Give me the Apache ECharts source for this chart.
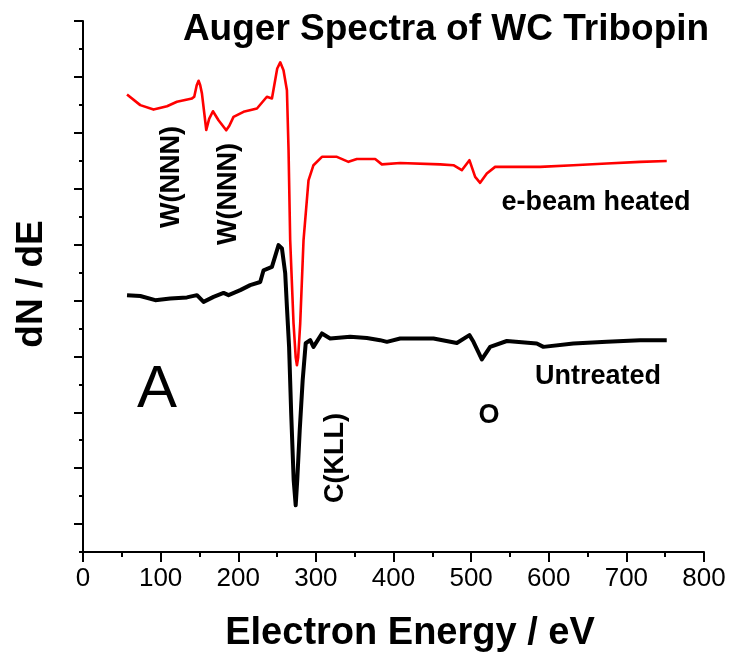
<!DOCTYPE html>
<html>
<head>
<meta charset="utf-8">
<script src="https://cdn.jsdelivr.net/npm/echarts@6/dist/echarts.min.js"></script>
<style>html,body{margin:0;padding:0;background:#fff;}#c{width:743px;height:656px;}</style>
</head>
<body>
<div id="c"></div>
<script>
// Electron energy (eV) and dN/dE (arbitrary units, y-axis tick units)
const heatedE = [56.7,73.8,90.9,108.2,121.0,140.4,143.3,146.5,148.9,151.0,153.2,158.8,162.5,167.4,174.6,184.5,188.5,193.9,206.8,224.1,236.9,243.4,250.2,254.1,258.3,262.7,264.8,266.9,271.2,274.0,275.6,277.2,279.8,284.1,290.5,296.9,307.8,327.1,342.0,352.8,376.4,385.0,408.6,460.1,477.2,488.0,497.8,505.2,511.6,520.2,530.9,567.4,588.9,631.7,674.8,717.6,752.0];
const heatedV = [16.37,15.99,15.83,15.95,16.11,16.23,16.29,16.7,16.86,16.7,16.41,15.10,15.5,15.77,15.45,15.09,15.25,15.57,15.75,15.87,16.29,16.23,17.3,17.52,17.24,16.52,14.38,11.16,8.19,6.97,6.68,6.97,8.17,11.16,13.30,13.84,14.14,14.14,13.96,14.06,14.06,13.87,13.92,13.87,13.84,13.66,14.02,13.42,13.21,13.54,13.78,13.78,13.78,13.84,13.90,13.96,13.99];

const untreatedE = [56.7,73.8,93.1,112.4,133.9,146.8,155.3,168.2,181.1,187.5,202.6,215.4,228.3,232.6,243.4,251.9,256.3,260.5,262.7,265.5,268.2,271.4,274.0,276.0,279.2,283.0,286.9,292.7,296.9,307.8,318.4,344.2,365.7,382.8,391.5,408.6,451.5,481.6,497.8,503.0,513.8,524.5,546.0,584.6,593.1,631.7,674.8,717.6,752.0];
const untreatedV = [9.19,9.16,9.01,9.07,9.11,9.19,8.95,9.13,9.27,9.19,9.37,9.55,9.66,10.08,10.20,10.98,10.86,9.97,8.77,7.33,4.96,2.57,1.67,2.57,4.36,6.15,7.47,7.58,7.34,7.82,7.64,7.70,7.66,7.58,7.52,7.64,7.64,7.48,7.76,7.52,6.89,7.34,7.55,7.46,7.34,7.46,7.52,7.58,7.58];

const xTicks = [0,100,200,300,400,500,600,700,800];
const yMajor = [1,3,5,7,9,11,13,15,17,19];
const yMinor = [0,2,4,6,8,10,12,14,16,18];

const chart = echarts.init(document.getElementById('c'), null, {renderer:'canvas'});
const zip = (a,b)=>a.map((x,i)=>[x,b[i]]);
const bold = 'Liberation Sans, Arial, sans-serif';

chart.setOption({
  animation:false,
  backgroundColor:'#fff',
  grid:{left:83,right:39,top:21,bottom:104,containLabel:false},
  xAxis:{
    type:'value',min:xTicks[0],max:xTicks[xTicks.length-1],interval:100,
    axisLine:{onZero:false,lineStyle:{color:'#000',width:2}},
    axisTick:{show:true,inside:false,length:10,lineStyle:{color:'#000',width:2}},
    minorTick:{show:true,splitNumber:2,length:5,lineStyle:{color:'#000',width:2}},
    splitLine:{show:false},
    axisLabel:{color:'#000',fontSize:26,fontFamily:bold,margin:14}
  },
  yAxis:[{
    type:'value',min:0,max:19,interval:1,
    axisLine:{show:true,lineStyle:{color:'#000',width:2}},
    axisTick:{show:true,length:4,customValues:yMinor,lineStyle:{color:'#000',width:2}},
    splitLine:{show:false},
    axisLabel:{show:false}
  },{
    type:'value',min:0,max:19,interval:1,position:'left',
    axisLine:{show:false},
    axisTick:{show:true,length:9,customValues:yMajor,lineStyle:{color:'#000',width:2}},
    splitLine:{show:false},
    axisLabel:{show:false}
  }],
  series:[
    {type:'line',name:'Untreated',data:zip(untreatedE,untreatedV),symbol:'none',
     lineStyle:{color:'#000',width:4,join:'round'},itemStyle:{color:'#000'}},
    {type:'line',name:'e-beam heated',data:zip(heatedE,heatedV),symbol:'none',
     lineStyle:{color:'#ff0000',width:2.6,join:'round'},itemStyle:{color:'#ff0000'}}
  ],
  graphic:[
    {type:'text',x:446,y:30,style:{text:'Auger Spectra of WC Tribopin',font:'bold 37px '+bold,fill:'#000',textAlign:'center',textVerticalAlign:'middle'}},
    {type:'text',x:32,y:284,rotation:Math.PI/2,style:{text:'dN / dE',font:'bold 37px '+bold,fill:'#000',textAlign:'center',textVerticalAlign:'middle'}},
    {type:'text',x:410,y:634,style:{text:'Electron Energy / eV',font:'bold 38px '+bold,fill:'#000',textAlign:'center',textVerticalAlign:'middle'}},
    {type:'text',x:172,y:177,rotation:Math.PI/2,style:{text:'W(NNN)',font:'bold 27px '+bold,fill:'#000',textAlign:'center',textVerticalAlign:'middle'}},
    {type:'text',x:229,y:194,rotation:Math.PI/2,style:{text:'W(NNN)',font:'bold 27px '+bold,fill:'#000',textAlign:'center',textVerticalAlign:'middle'}},
    {type:'text',x:336,y:458,rotation:Math.PI/2,style:{text:'C(KLL)',font:'bold 27px '+bold,fill:'#000',textAlign:'center',textVerticalAlign:'middle'}},
    {type:'text',x:596,y:203,style:{text:'e-beam heated',font:'bold 27px '+bold,fill:'#000',textAlign:'center',textVerticalAlign:'middle'}},
    {type:'text',x:598,y:377,style:{text:'Untreated',font:'bold 27px '+bold,fill:'#000',textAlign:'center',textVerticalAlign:'middle'}},
    {type:'text',x:489,y:416,style:{text:'O',font:'bold 27px '+bold,fill:'#000',textAlign:'center',textVerticalAlign:'middle'}},
    {type:'text',x:157,y:390,style:{text:'A',font:'60px '+bold,fill:'#000',textAlign:'center',textVerticalAlign:'middle'}}
  ]
});
</script>
</body>
</html>
